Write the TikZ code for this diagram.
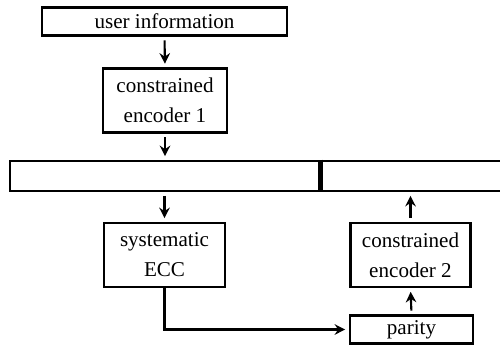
\documentclass[tikz,border=0pt]{standalone}
\usepackage{fontspec}
\setmainfont{Liberation Serif}
\usetikzlibrary{arrows.meta, positioning}

\begin{document}
\begin{tikzpicture}[
  x=0.02cm,y=-0.02cm,
  ->,>={Stealth[length=6pt,width=6pt,inset=2pt]},line width=1.2pt,
  every node/.style={font=\fontsize{12}{17}\selectfont, inner sep=0pt, align=center},
  block/.style={draw=black, line width=1.5pt, minimum height=0.56cm},
  tall/.style={block, minimum height=1.28cm},
  every edge/.style={draw=black, shorten >=2pt, shorten <=2pt}]

  \useasboundingbox (0,0) rectangle (500,345);

  \node[block, minimum width=4.9cm]  (info)   at (164.5, 21.5) {user information};
  \node[tall,  minimum width=2.48cm] (enc1)   at (165, 100.5)  {constrained\\encoder 1};
  \node[block, minimum width=6.18cm, minimum height=0.6cm] (dpart) at (164.5, 176) {};
  \node[block, minimum width=4.4cm,  minimum height=0.6cm] (ppart) at (429, 176)   {};
  \node[tall,  minimum width=2.42cm] (ecc)    at (164.5, 255)  {systematic\\ECC};
  \node[tall,  minimum width=2.4cm]  (enc2)   at (410.5, 255)  {constrained\\encoder 2};
  \node[block, minimum width=2.46cm] (parity) at (411.5, 329.5) {parity};

  % divider between data part and parity part
  \draw[-, line width=2.8pt] (dpart.north east) -- (dpart.south east);

  \path
    (info.south)   edge (enc1.north)
    (enc1.south)   edge (enc1.south |- dpart.north)
    (ecc.north |- dpart.south) edge (ecc.north)
    (parity.north) edge (enc2.south)
    (enc2.north)   edge (enc2.north |- ppart.south)
  ;
  \draw[shorten >=2pt] (ecc.south) |- (parity.west);

\end{tikzpicture}
\end{document}
